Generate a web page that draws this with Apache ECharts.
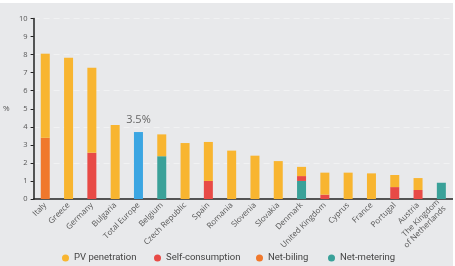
<!DOCTYPE html>
<html>
<head>
<meta charset="utf-8">
<script src="https://cdn.jsdelivr.net/npm/echarts@6/dist/echarts.min.js"></script>
<style>
  html, body { margin: 0; padding: 0; background: #ffffff; }
  #chart { position: absolute; left: 0; top: 3px; width: 453px; height: 263px; background: #e8e9eb; }
</style>
</head>
<body>
<div id="chart"></div>
<script>
// categories along the x axis
const countries = ['Italy', 'Greece', 'Germany', 'Bulgaria', 'Total Europe', 'Belgium', 'Czech Republic', 'Spain', 'Romania', 'Slovenia', 'Slovakia', 'Denmark', 'United Kingdom', 'Cyprus', 'France', 'Portugal', 'Austria', 'The Kingdom\nof Netherlands']
// total PV penetration (%), full bar height
const pvTotal = [8.05, 7.83, 7.27, 4.1, 3.71, 3.58, 3.1, 3.16, 2.68, 2.4, 2.1, 1.78, 1.46, 1.46, 1.42, 1.33, 1.16, 0.9]
// share under each support scheme (%)
const netMetering = [0, 0, 0, 0, 0, 2.37, 0, 0, 0, 0, 0, 1.0, 0, 0, 0, 0, 0, 0.9]
const netBilling = [3.39, 0, 0, 0, 0, 0, 0, 0, 0, 0, 0, 0, 0, 0, 0, 0, 0, 0]
const selfConsumption = [0, 0, 2.56, 0, 0, 0, 0, 1.0, 0, 0, 0, 0.27, 0.24, 0, 0, 0.66, 0.5, 0]
const europeLabel = '3.5%'
const yTicks = [0, 10, 1]

const colors = {
  pv: '#f8b530',
  self: '#e84a46',
  billing: '#f0782c',
  metering: '#3aa199',
  europe: '#3ba6e2',
}

// yellow part sits on top of the scheme parts
const pvRest = pvTotal.map((t, i) => {
  const v = t - netMetering[i] - netBilling[i] - selfConsumption[i]
  return Math.round(v * 100) / 100
})

const pvData = pvRest.map((v, i) => {
  if (countries[i] === 'Total Europe') {
    return {
      value: v,
      itemStyle: {color: colors.europe},
      label: {show: true, position: 'top', distance: 7, formatter: europeLabel, color: '#666', fontSize: 11, fontFamily: 'Open Sans'},
    }
  }
  return v
})

const chart = echarts.init(document.getElementById('chart'))

const legendItem = function (name, left) {
  return {
    data: [name],
    left: left,
    top: 245,
    icon: 'circle',
    itemWidth: 7,
    itemHeight: 7,
    itemGap: 0,
    textStyle: {color: '#444', fontSize: 9.5, fontFamily: 'Roboto'},
    selectedMode: false,
  }
}

const barBase = {
  type: 'bar',
  stack: 'pv',
  barWidth: 9,
}

chart.setOption({
  animation: false,
  grid: {left: 31, right: 0, top: 15.5, bottom: 67},
  legend: [
    legendItem('PV penetration', 57),
    legendItem('Self-consumption', 149),
    legendItem('Net-biling', 251),
    legendItem('Net-metering', 323),
  ],
  xAxis: {
    type: 'category',
    data: countries,
    axisLine: {lineStyle: {color: '#222', width: 1.5}},
    axisTick: {show: false},
    axisLabel: {
      interval: 0,
      rotate: 45,
      margin: 5,
      color: '#555',
      fontSize: 8,
      lineHeight: 9,
      fontFamily: 'Open Sans',
    },
  },
  yAxis: [
    {
      type: 'value',
      min: yTicks[0],
      max: yTicks[1],
      interval: yTicks[2],
      name: '%',
      nameLocation: 'middle',
      nameRotate: 0,
      nameGap: 24,
      nameTextStyle: {color: '#555', fontSize: 8, fontFamily: 'Open Sans'},
      axisLine: {show: true, lineStyle: {color: '#222', width: 1.5}},
      axisTick: {show: true, inside: false, length: 3, lineStyle: {color: '#222'}},
      axisLabel: {color: '#555', fontSize: 7.5, margin: 6, fontFamily: 'Open Sans'},
      splitLine: {show: false},
    },
    {
      type: 'value',
      min: 0,
      max: 10,
      interval: 2,
      position: 'left',
      axisLine: {show: false},
      axisTick: {show: false},
      axisLabel: {show: false},
      splitLine: {show: true, lineStyle: {color: '#f1f2f3', type: [6, 4], width: 1}},
    },
  ],
  series: [
    {...barBase, name: 'Net-metering', data: netMetering, itemStyle: {color: colors.metering}},
    {...barBase, name: 'Net-biling', data: netBilling, itemStyle: {color: colors.billing}},
    {...barBase, name: 'Self-consumption', data: selfConsumption, itemStyle: {color: colors.self}},
    {...barBase, name: 'PV penetration', data: pvData, itemStyle: {color: colors.pv}},
  ],
})
</script>
</body>
</html>
